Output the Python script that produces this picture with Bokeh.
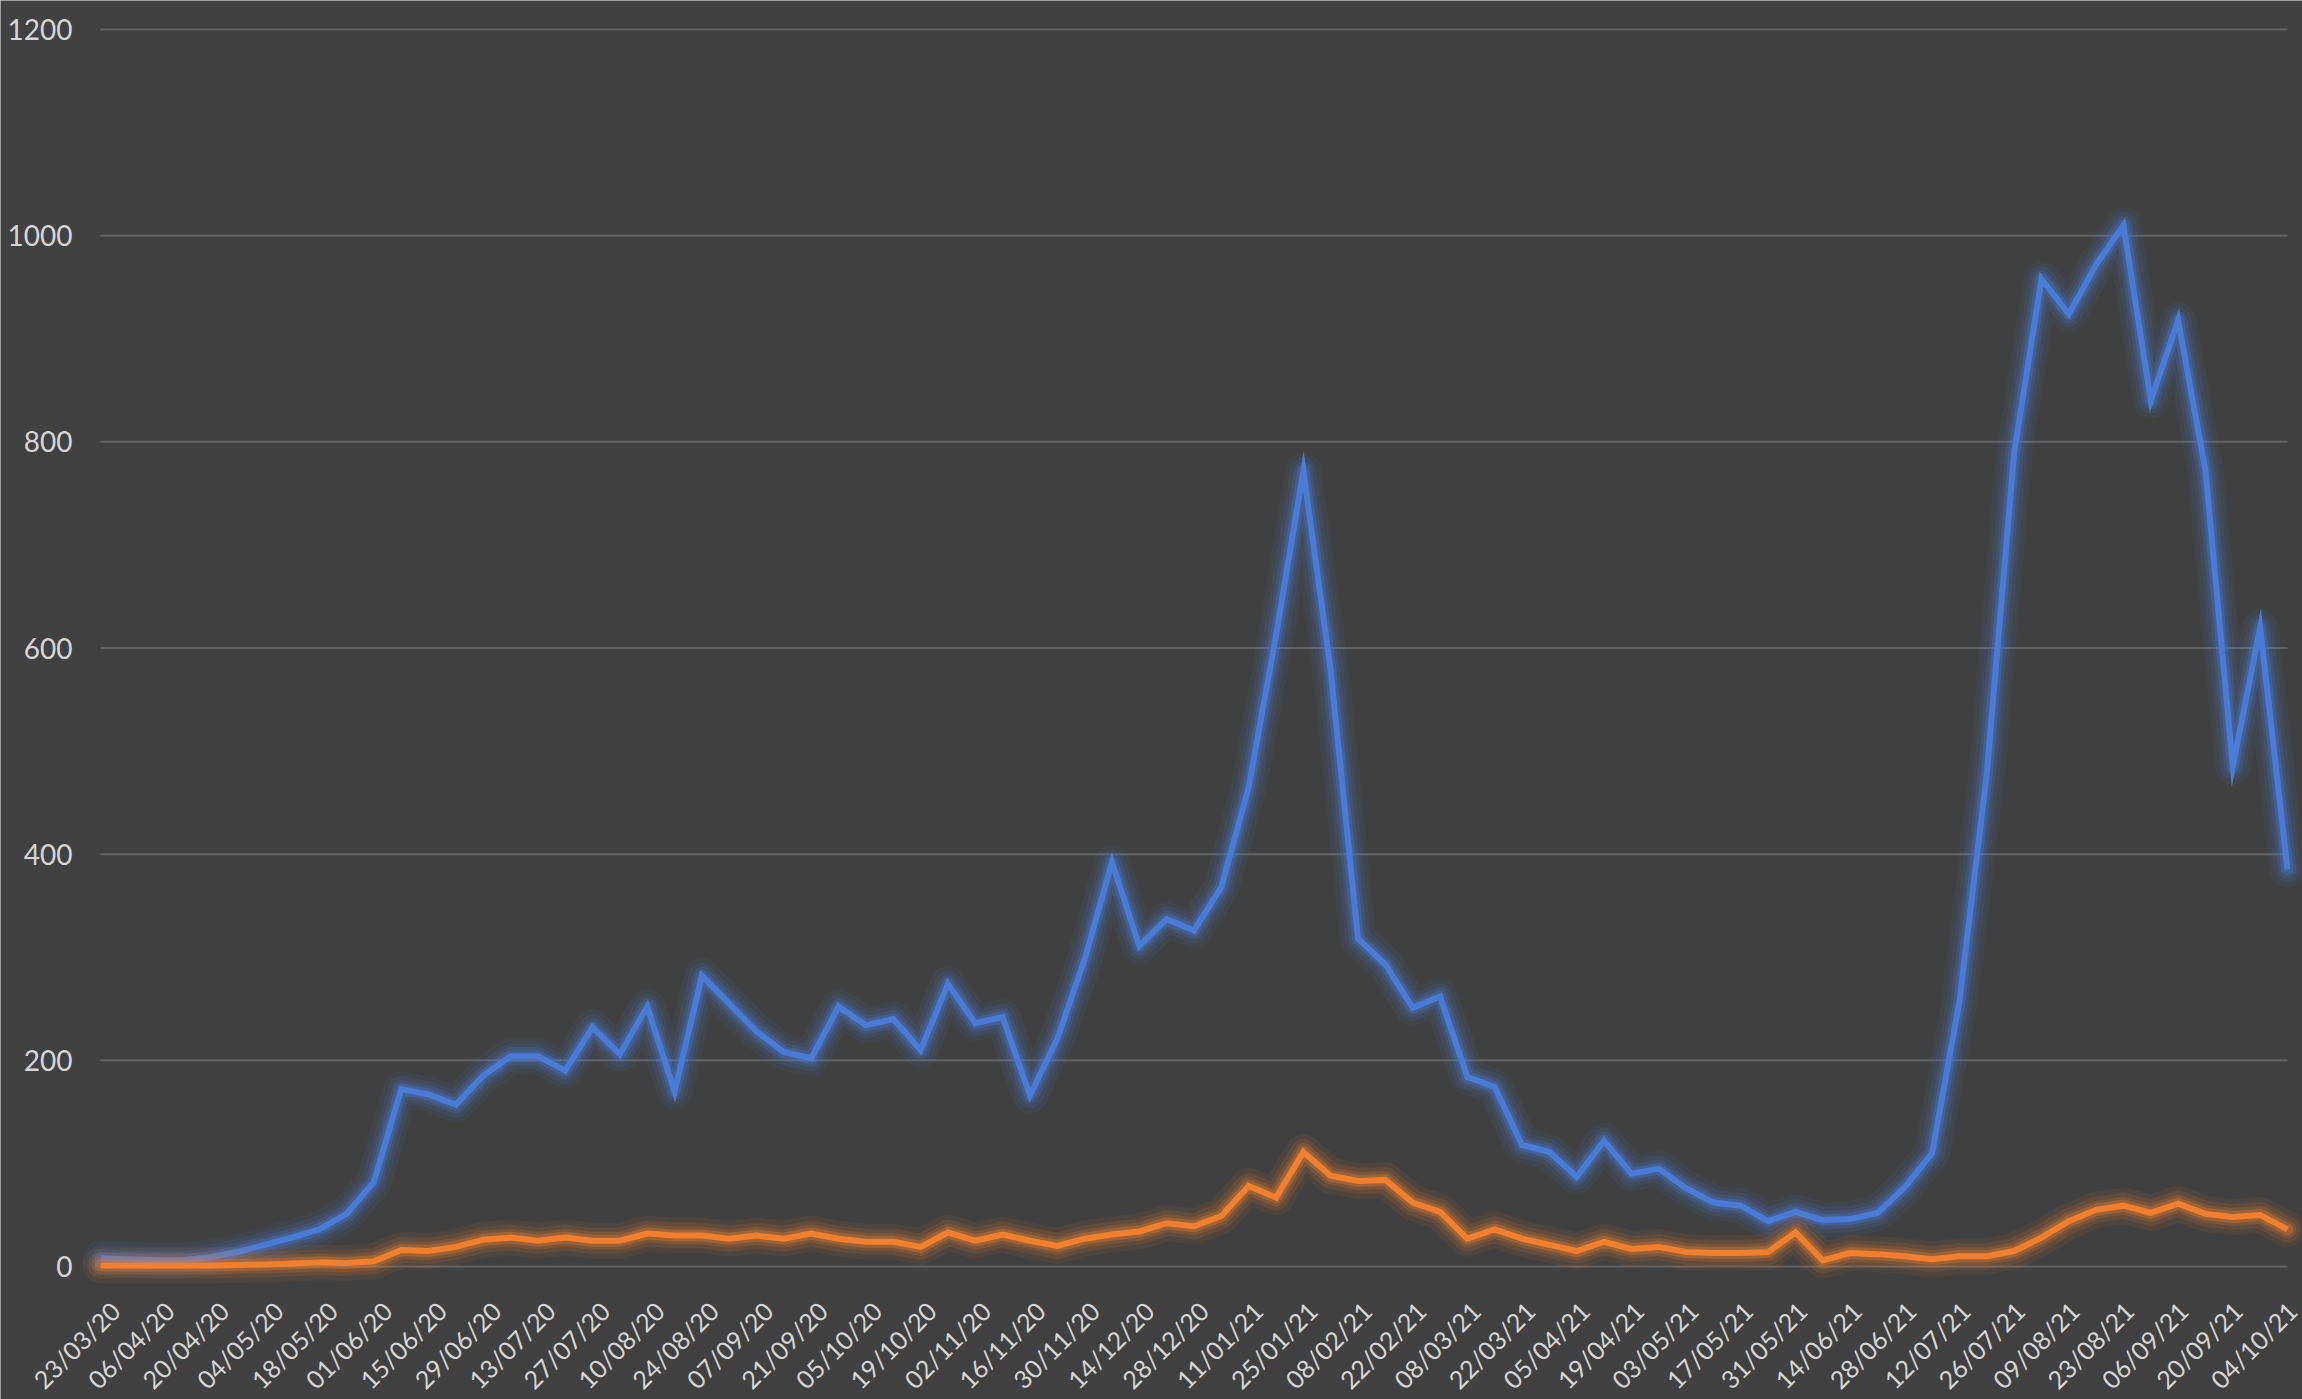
import math
from bokeh.plotting import figure
from bokeh.models import Range1d, ColumnDataSource
from bokeh.core.properties import value
from bokeh.embed import file_html
from bokeh.resources import INLINE

weeks = ["23/03/20", "30/03/20", "06/04/20", "13/04/20", "20/04/20", "27/04/20", "04/05/20", "11/05/20",
         "18/05/20", "25/05/20", "01/06/20", "08/06/20", "15/06/20", "22/06/20", "29/06/20", "06/07/20",
         "13/07/20", "20/07/20", "27/07/20", "03/08/20", "10/08/20", "17/08/20", "24/08/20", "31/08/20",
         "07/09/20", "14/09/20", "21/09/20", "28/09/20", "05/10/20", "12/10/20", "19/10/20", "26/10/20",
         "02/11/20", "09/11/20", "16/11/20", "23/11/20", "30/11/20", "07/12/20", "14/12/20", "21/12/20",
         "28/12/20", "04/01/21", "11/01/21", "18/01/21", "25/01/21", "01/02/21", "08/02/21", "15/02/21",
         "22/02/21", "01/03/21", "08/03/21", "15/03/21", "22/03/21", "29/03/21", "05/04/21", "12/04/21",
         "19/04/21", "26/04/21", "03/05/21", "10/05/21", "17/05/21", "24/05/21", "31/05/21", "07/06/21",
         "14/06/21", "21/06/21", "28/06/21", "05/07/21", "12/07/21", "19/07/21", "26/07/21", "02/08/21",
         "09/08/21", "16/08/21", "23/08/21", "30/08/21", "06/09/21", "13/09/21", "20/09/21", "27/09/21",
         "04/10/21"]

blue_series = [8, 7, 6, 6, 9, 14, 21, 28, 36, 51, 82, 172, 167, 157, 185, 204, 204, 190, 232, 206,
               252, 170, 282, 255, 228, 208, 202, 252, 234, 240, 210, 274, 236, 242, 166, 221, 298, 392,
               311, 337, 326, 368, 465, 612, 772, 578, 318, 293, 251, 262, 184, 174, 118, 111, 87, 122,
               90, 95, 76, 62, 59, 44, 53, 45, 46, 52, 77, 110, 257, 478, 789, 958, 924, 972, 1010, 840,
               918, 772, 485, 620, 385]

orange_series = [1, 1, 1, 1, 1, 1.5, 2, 3, 4, 3.5, 5, 16, 15, 19, 26, 28, 25, 28, 25, 25,
                 32, 30, 30, 27, 30, 27, 32, 27, 24, 24, 19, 33, 25, 31, 25, 20, 27, 31,
                 34, 42, 39, 49, 78, 67, 111, 88, 83, 84, 62, 53, 27, 36, 27, 21, 15, 24,
                 17, 19, 14, 13, 13, 14, 33, 6, 13, 12, 10, 7, 10, 10, 15, 28, 44, 55, 59, 52,
                 61, 51, 48, 50, 36]

y_ticks = [0, 200, 400, 600, 800, 1000, 1200]
y_tick_labels = ["0", "200", "400", "600", "800", "1000", "1200"]
tick_positions = list(range(0, len(weeks), 2))
tick_labels = weeks[::2]

BG = "#414141"
TXT = "#d6d6d6"
GRID = "#636363"
BLUE = "#4a7bd6"
ORANGE = "#f0802f"
FONT = value("Lato")

# canvas and plotting-area geometry (pixels)
W, H = 2302, 1399
AREA_L, AREA_R, AREA_T, AREA_B = 100, 2287, 29, 1266
n_last = len(weeks) - 1
ppx = (AREA_R - AREA_L) / n_last
ppy = (AREA_B - AREA_T) / 1200.0

p = figure(width=W, height=H, output_backend="svg", toolbar_location=None,
           x_range=Range1d(-AREA_L / ppx, n_last + (W - AREA_R) / ppx),
           y_range=Range1d(-(H - AREA_B) / ppy, 1200 + AREA_T / ppy))
p.background_fill_color = BG
p.border_fill_color = BG
p.outline_line_color = None
p.min_border = 0
p.min_border_left = 0
p.min_border_right = 0
p.min_border_top = 0
p.min_border_bottom = 0
p.xaxis.visible = False
p.yaxis.visible = False
p.xgrid.visible = False
p.ygrid.visible = False

# horizontal gridlines across the plotting area
p.segment(x0=[0] * len(y_ticks), x1=[n_last] * len(y_ticks), y0=y_ticks, y1=y_ticks,
          line_color=GRID, line_width=2)

x = list(range(len(weeks)))
src = ColumnDataSource(dict(x=x, blue=blue_series, orange=orange_series))

# glow layers then core lines
for col, field in ((BLUE, "blue"), (ORANGE, "orange")):
    for w, a in ((36, 0.08), (26, 0.12), (18, 0.18), (12, 0.30)):
        p.line("x", field, source=src, line_color=col, line_width=w, line_alpha=a,
               line_join="round", line_cap="round")
    p.line("x", field, source=src, line_color=col, line_width=6, line_join="miter")

# y tick labels
p.text(x=[0] * len(y_ticks), y=y_ticks, text=y_tick_labels, x_offset=-28,
       text_align="right", text_baseline="middle", text_font=FONT,
       text_font_size="28px", text_color=TXT)

# rotated date labels (slight drift of the label anchors from left to right)
lab_offsets = [4 - 10 * t / n_last for t in tick_positions]
lab_src = ColumnDataSource(dict(x=tick_positions, y=[-29.0 / ppy] * len(tick_positions),
                                text=tick_labels, dx=lab_offsets))
p.text(x="x", y="y", text="text", x_offset="dx", source=lab_src,
       angle=math.pi / 4, text_align="right", text_baseline="top",
       text_font=FONT, text_font_size="25px", text_color=TXT)

open("out.html", "w").write(file_html(p, INLINE))
